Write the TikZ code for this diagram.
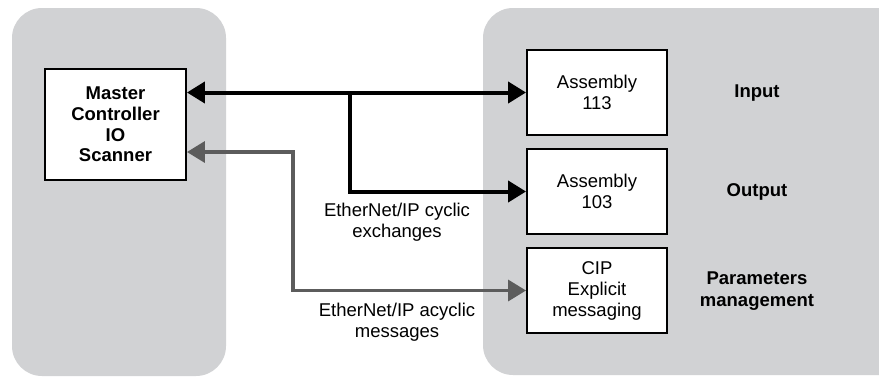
\documentclass[tikz,border=0pt]{standalone}
\usepackage{fontspec}
\setmainfont{Liberation Sans}
\usetikzlibrary{arrows.meta}
\definecolor{panelgray}{HTML}{D1D2D4}
\definecolor{arrowgray}{HTML}{5C5C5C}
\begin{document}
\begin{tikzpicture}[x=1pt,y=-1pt,
  panel/.style={fill=panelgray, rounded corners=30pt},
  boxnode/.style={draw=black, line width=1.9pt, fill=white, minimum width=140pt, minimum height=85pt, align=center, inner sep=0pt, font=\fontsize{18.5}{21}\selectfont},
  lbl/.style={align=center, font=\fontsize{18.5}{21}\selectfont},
  blbl/.style={align=center, font=\fontsize{18.5}{21.5}\selectfont\bfseries},
  tip/.style={Triangle[length=18pt,width=21pt]},
  blkarrow/.style={draw=black, line width=4pt, -{Triangle[length=18pt,width=21pt]}},
  blkboth/.style={draw=black, line width=4pt, {Triangle[length=18pt,width=21pt]}-{Triangle[length=18pt,width=21pt]}},
  gryboth/.style={draw=arrowgray, line width=3.5pt, {Triangle[length=18pt,width=21pt]}-{Triangle[length=18pt,width=21pt]}}
]
\clip (0,0) rectangle (879,376);
\fill[white] (0,0) rectangle (879,376);
\fill[panel] (12,8) rectangle (226,376);
\fill[panel] (483,8) rectangle (930,375);

\node[boxnode, minimum width=141pt, minimum height=111pt, font=\fontsize{18.5}{20.7}\selectfont\bfseries] (master) at (115.5,124.5) {Master\\Controller\\IO\\Scanner};
\node[boxnode] (a113) at (597,92.5) {Assembly\\113};
\node[boxnode] (a103) at (597,191.5) {Assembly\\103};
\node[boxnode] (cip) at (597,290.5) {CIP\\Explicit\\messaging};

\node[blbl] (lin) at (757,93) {Input};
\node[blbl] (lout) at (757,192) {Output};
\node[blbl] (lpar) at (757,291) {Parameters\\management};

\node[lbl] (lcyc) at (397,222) {EtherNet/IP cyclic\\exchanges};
\node[lbl] (lacyc) at (397,322) {EtherNet/IP acyclic\\messages};

\coordinate (br) at (350,92.5);
\coordinate (gt) at (293,152);

\draw[blkboth] (master.east |- a113.west) -- (a113.west);
\draw[blkarrow] (br) |- (a103.west);
\draw[gryboth] (master.east |- gt) -- (gt) |- (cip.west);
\end{tikzpicture}
\end{document}
